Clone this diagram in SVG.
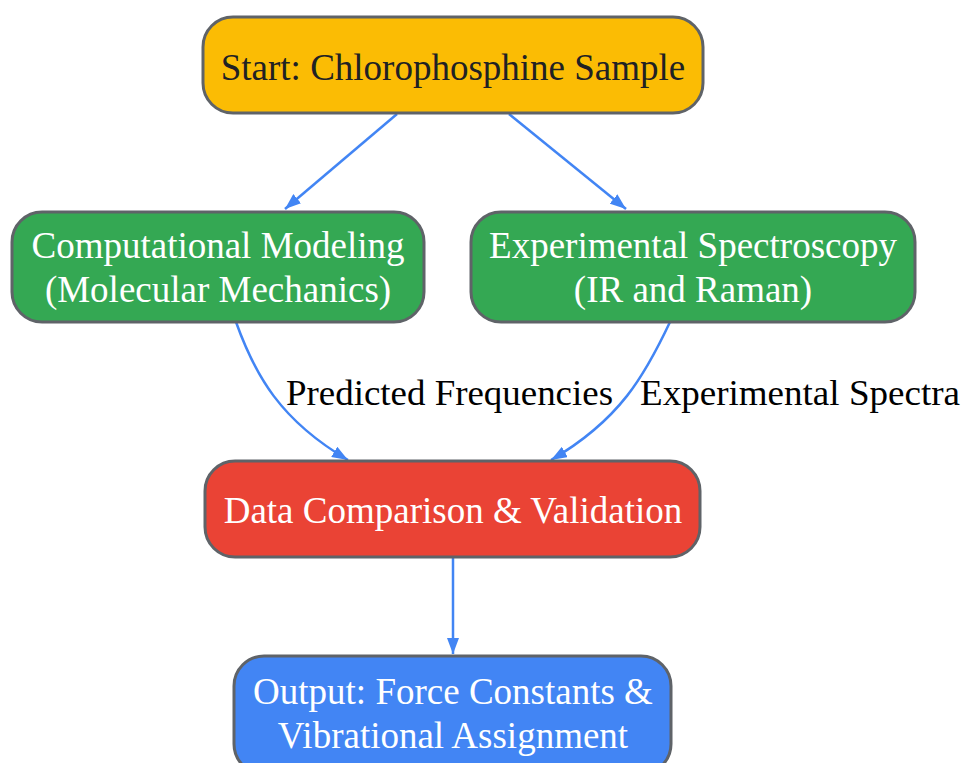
<svg xmlns="http://www.w3.org/2000/svg" width="965" height="763" viewBox="0 0 965 763">
<defs>
<style>
.node rect{stroke:#5f6368;stroke-width:3}
.t{font-family:"Liberation Serif","Times New Roman",serif;font-size:37px;text-anchor:middle}
.w{fill:#ffffff}
.d{fill:#202124}
.edge{fill:none;stroke:#4285F4;stroke-width:2.5}
.lbl{font-family:"Liberation Serif","Times New Roman",serif;font-size:36px;fill:#000}
</style>
<marker id="ah2" viewBox="0 0 16 12" refX="16" refY="6" markerWidth="16" markerHeight="12" markerUnits="userSpaceOnUse" orient="auto">
<path d="M0,0 L16,6 L0,12 z" fill="#4285F4"/>
</marker>
</defs>
<rect width="965" height="763" fill="#ffffff"/>
<g id="edges">
<path class="edge" d="M397,114 L285,209" marker-end="url(#ah2)"/>
<path class="edge" d="M509,114 L626,209" marker-end="url(#ah2)"/>
<path class="edge" d="M236,322 C255,375 280,420 348,460" marker-end="url(#ah2)"/>
<path class="edge" d="M670,322 C645,375 620,420 551,460" marker-end="url(#ah2)"/>
<path class="edge" d="M453,557 L453,654" marker-end="url(#ah2)"/>
<text class="lbl" x="286" y="405" textLength="327" lengthAdjust="spacingAndGlyphs">Predicted Frequencies</text>
<text class="lbl" x="640" y="405" textLength="320" lengthAdjust="spacingAndGlyphs">Experimental Spectra</text>
</g>
<g id="start" class="node">
<rect x="203" y="17" width="500" height="96" rx="30" fill="#FBBC04"/>
<text class="t d" x="453" y="80">Start: Chlorophosphine Sample</text>
</g>
<g id="comp" class="node">
<rect x="12" y="212" width="412" height="110" rx="30" fill="#34A853"/>
<text class="t w" x="218" y="258">Computational Modeling</text>
<text class="t w" x="218" y="302">(Molecular Mechanics)</text>
</g>
<g id="exp" class="node">
<rect x="471" y="212" width="444" height="110" rx="30" fill="#34A853"/>
<text class="t w" x="693" y="258">Experimental Spectroscopy</text>
<text class="t w" x="693" y="302">(IR and Raman)</text>
</g>
<g id="data" class="node">
<rect x="205" y="461" width="495" height="96" rx="30" fill="#EA4335"/>
<text class="t w" x="453" y="523">Data Comparison &amp; Validation</text>
</g>
<g id="output" class="node">
<rect x="234" y="656" width="437" height="118" rx="30" fill="#4285F4"/>
<text class="t w" x="453" y="704">Output: Force Constants &amp;</text>
<text class="t w" x="453" y="748">Vibrational Assignment</text>
</g>
</svg>
